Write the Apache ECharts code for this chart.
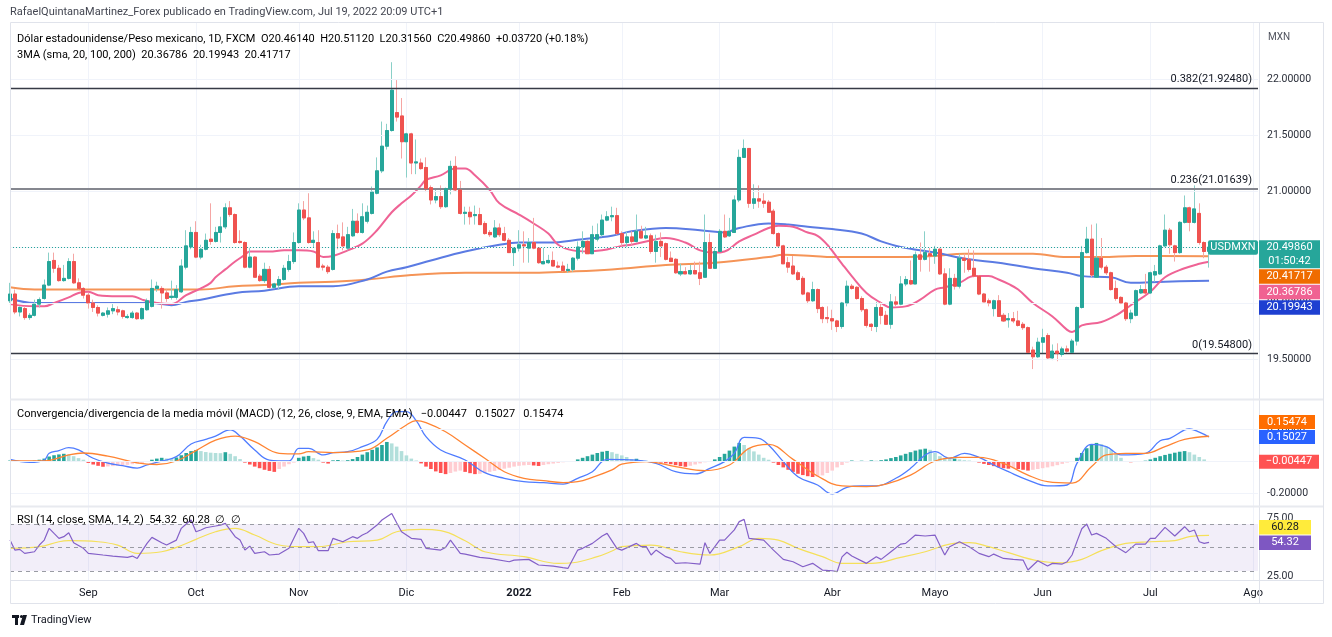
<!DOCTYPE html>
<html><head><meta charset="utf-8">
<script src="https://cdn.jsdelivr.net/npm/echarts@6/dist/echarts.min.js"></script>
<style>html,body{margin:0;padding:0;background:#fff;}#c{width:1332px;height:637px;}</style>
</head><body><div id="c"></div>
<script>
// ---------- DATA ----------
// daily bars [open, high, low, close], from 2021-08-10 (weekdays) to 2022-07-19
const ohlc = [
[20.02,20.18,20.00,20.08],[20.08,20.12,19.90,19.92],[19.92,19.97,19.88,19.96],[19.95,19.97,19.85,19.87],[19.87,19.91,19.85,19.89],
[19.89,20.03,19.88,19.99],[19.99,20.05,19.96,20.03],[20.04,20.21,20.03,20.16],[20.16,20.45,20.15,20.37],[20.38,20.45,20.27,20.31],
[20.31,20.34,20.19,20.20],[20.20,20.34,20.19,20.22],[20.22,20.40,20.21,20.37],[20.37,20.44,20.17,20.18],[20.18,20.22,20.12,20.13],
[20.13,20.14,20.04,20.07],[20.07,20.09,19.95,20.00],[20.00,20.03,19.92,19.96],[19.96,19.98,19.88,19.91],[19.89,19.92,19.88,19.91],
[19.90,19.96,19.87,19.93],[19.93,19.99,19.90,19.95],[19.94,19.97,19.89,19.92],[19.93,19.94,19.86,19.88],[19.87,19.90,19.86,19.88],
[19.87,19.93,19.86,19.91],[19.91,19.92,19.85,19.86],[19.86,19.96,19.85,19.95],[19.94,20.04,19.93,20.02],[19.97,20.21,19.96,20.13],
[20.13,20.19,20.10,20.15],[20.13,20.15,19.95,20.09],[20.09,20.12,20.01,20.04],[20.05,20.20,20.03,20.06],[20.05,20.16,20.03,20.12],
[20.10,20.39,20.09,20.33],[20.32,20.65,20.30,20.51],[20.50,20.68,20.48,20.63],[20.63,20.73,20.40,20.41],[20.41,20.52,20.39,20.48],
[20.48,20.62,20.47,20.56],[20.57,20.89,20.52,20.55],[20.55,20.68,20.54,20.63],[20.63,20.77,20.54,20.68],[20.68,20.89,20.66,20.85],
[20.85,20.91,20.77,20.79],[20.79,20.80,20.53,20.54],[20.55,20.65,20.53,20.54],[20.54,20.55,20.31,20.32],[20.32,20.49,20.31,20.41],
[20.41,20.42,20.23,20.23],[20.24,20.26,20.19,20.20],[20.20,20.36,20.18,20.30],[20.30,20.33,20.13,20.14],[20.14,20.18,20.13,20.17],
[20.16,20.24,20.12,20.21],[20.21,20.34,20.20,20.31],[20.30,20.43,20.28,20.37],[20.37,20.63,20.35,20.54],[20.54,20.89,20.53,20.83],
[20.83,20.91,20.74,20.76],[20.76,20.98,20.53,20.54],[20.54,20.64,20.50,20.56],[20.54,20.65,20.31,20.32],[20.33,20.35,20.29,20.32],
[20.32,20.34,20.26,20.28],[20.30,20.65,20.29,20.62],[20.62,20.70,20.48,20.58],[20.59,20.72,20.47,20.51],[20.49,20.68,20.47,20.61],
[20.60,20.84,20.59,20.73],[20.73,20.80,20.62,20.63],[20.63,20.89,20.62,20.77],[20.73,20.87,20.71,20.81],[20.80,21.04,20.79,20.99],
[20.98,21.30,20.97,21.18],[21.18,21.62,21.16,21.40],[21.40,21.60,21.37,21.54],[21.54,22.15,21.53,21.90],[21.70,21.99,21.62,21.66],
[21.67,21.83,21.29,21.44],[21.44,21.52,21.12,21.51],[21.51,21.52,21.15,21.25],[21.25,21.46,21.15,21.26],[21.25,21.29,21.19,21.20],
[21.21,21.30,20.99,21.02],[21.03,21.05,20.88,20.92],[20.92,21.02,20.89,20.95],[20.95,21.05,20.84,20.86],[20.86,21.03,20.85,21.02],
[21.02,21.27,20.97,21.22],[21.22,21.31,21.00,21.01],[21.01,21.09,20.79,20.80],[20.80,20.86,20.70,20.81],[20.81,20.86,20.70,20.77],
[20.78,20.87,20.70,20.79],[20.79,20.85,20.70,20.70],[20.71,20.73,20.61,20.62],[20.63,20.65,20.59,20.61],[20.59,20.74,20.58,20.67],
[20.67,20.71,20.59,20.61],[20.62,20.68,20.55,20.56],[20.56,20.58,20.45,20.45],[20.45,20.47,20.33,20.49],[20.49,20.65,20.46,20.52],
[20.52,20.64,20.36,20.51],[20.49,20.58,20.36,20.54],[20.54,20.76,20.48,20.49],[20.49,20.50,20.35,20.36],[20.35,20.50,20.35,20.37],
[20.36,20.43,20.35,20.38],[20.38,20.46,20.33,20.33],[20.33,20.37,20.31,20.32],[20.33,20.37,20.28,20.29],[20.29,20.35,20.27,20.30],
[20.30,20.41,20.28,20.40],[20.40,20.55,20.38,20.50],[20.50,20.64,20.44,20.55],[20.55,20.56,20.44,20.44],[20.44,20.69,20.44,20.61],
[20.57,20.71,20.55,20.61],[20.61,20.79,20.59,20.74],[20.74,20.82,20.73,20.77],[20.77,20.86,20.73,20.78],[20.78,20.85,20.61,20.62],
[20.62,20.64,20.51,20.54],[20.54,20.64,20.49,20.59],[20.59,20.64,20.52,20.55],[20.55,20.79,20.54,20.64],[20.64,20.69,20.58,20.58],
[20.58,20.68,20.57,20.60],[20.60,20.62,20.44,20.46],[20.46,20.61,20.36,20.55],[20.55,20.63,20.41,20.51],[20.53,20.54,20.38,20.39],
[20.40,20.46,20.37,20.37],[20.39,20.40,20.26,20.27],[20.26,20.35,20.24,20.28],[20.28,20.32,20.26,20.26],[20.26,20.34,20.25,20.29],
[20.29,20.37,20.27,20.26],[20.27,20.37,20.16,20.22],[20.23,20.79,20.23,20.54],[20.54,20.62,20.32,20.31],[20.31,20.50,20.31,20.46],
[20.46,20.66,20.46,20.64],[20.64,20.79,20.58,20.59],[20.60,20.76,20.59,20.64],[20.63,20.96,20.63,20.92],[20.92,21.37,20.90,21.30],
[21.30,21.46,21.30,21.38],[21.38,21.38,20.85,20.89],[20.89,21.06,20.84,20.93],[20.93,21.05,20.85,20.91],[20.91,20.98,20.85,20.89],
[20.90,20.92,20.81,20.81],[20.82,20.84,20.61,20.62],[20.62,20.63,20.50,20.51],[20.51,20.52,20.35,20.35],[20.36,20.41,20.27,20.32],
[20.33,20.42,20.25,20.26],[20.27,20.29,20.20,20.21],[20.22,20.24,20.07,20.08],[20.09,20.10,19.99,20.02],[20.02,20.19,20.01,20.12],
[20.12,20.13,19.91,19.95],[19.96,19.97,19.82,19.86],[19.87,19.97,19.82,19.86],[19.86,19.94,19.76,19.84],[19.84,19.85,19.74,19.79],
[19.79,20.01,19.77,20.00],[20.00,20.20,19.97,20.15],[20.15,20.17,20.12,20.13],[20.14,20.15,20.03,20.04],[20.04,20.06,19.92,19.94],
[19.94,19.95,19.78,19.80],[19.81,19.82,19.75,19.79],[19.79,20.01,19.74,19.96],[19.96,20.01,19.81,19.89],[19.89,19.93,19.81,19.81],
[19.81,20.08,19.77,20.01],[20.01,20.06,19.97,19.99],[19.99,20.24,19.98,20.17],[20.17,20.24,20.15,20.21],[20.20,20.38,20.16,20.17],
[20.17,20.46,20.17,20.43],[20.43,20.54,20.28,20.39],[20.39,20.64,20.38,20.45],[20.44,20.50,20.28,20.42],[20.42,20.51,20.35,20.48],
[20.48,20.49,20.25,20.26],[20.26,20.31,19.98,19.99],[19.99,20.31,19.98,20.22],[20.22,20.26,20.12,20.15],[20.15,20.44,20.13,20.40],
[20.40,20.44,20.27,20.38],[20.39,20.48,20.28,20.30],[20.31,20.47,20.23,20.24],[20.24,20.25,20.07,20.08],[20.08,20.09,20.01,20.01],
[20.02,20.04,19.97,20.00],[19.95,20.03,19.88,20.02],[20.02,20.07,19.88,19.88],[19.89,19.91,19.83,19.84],[19.85,19.91,19.78,19.86],
[19.86,19.92,19.82,19.84],[19.84,19.93,19.79,19.80],[19.81,19.83,19.76,19.78],[19.78,19.79,19.55,19.56],[19.58,19.61,19.41,19.52],
[19.52,19.69,19.51,19.65],[19.65,19.77,19.55,19.69],[19.71,19.73,19.50,19.51],[19.51,19.63,19.49,19.57],[19.57,19.64,19.48,19.55],
[19.54,19.61,19.52,19.59],[19.59,19.62,19.55,19.57],[19.56,19.68,19.55,19.66],[19.66,19.97,19.62,19.96],[19.96,20.51,19.95,20.45],
[20.45,20.68,20.44,20.57],[20.57,20.70,20.23,20.25],[20.23,20.71,20.23,20.40],[20.40,20.58,20.30,20.32],[20.32,20.34,20.25,20.27],
[20.27,20.28,20.11,20.12],[20.13,20.20,20.02,20.04],[20.05,20.06,19.99,20.00],[20.00,20.01,19.84,19.86],[19.86,19.94,19.82,19.91],
[19.89,20.12,19.88,20.11],[20.09,20.16,20.08,20.12],[20.12,20.26,20.08,20.09],[20.09,20.28,20.08,20.27],[20.25,20.34,20.19,20.28],
[20.26,20.52,20.25,20.51],[20.51,20.79,20.49,20.65],[20.65,20.67,20.44,20.52],[20.51,20.52,20.37,20.45],[20.45,20.73,20.44,20.72],
[20.72,20.96,20.71,20.85],[20.85,20.86,20.64,20.72],[20.72,21.05,20.71,20.84],[20.80,20.89,20.52,20.54],[20.54,20.55,20.40,20.46],
[20.4614,20.5112,20.3156,20.4986]
];
// moving averages: [bar index, value]
const sma20 = [[0,19.99],[5,19.97],[7,19.97],[9,20.00],[12,20.05],[14,20.09],[16,20.10],[18,20.07],[22,20.06],[25,20.06],[27,20.03],[30,20.00],[33,19.99],[36,20.07],[39,20.13],[41,20.18],[42,20.23],[44,20.30],[46,20.37],[48,20.43],[49,20.46],[53,20.46],[56,20.47],[59,20.47],[62,20.46],[64,20.41],[66,20.42],[69,20.47],[72,20.53],[75,20.65],[78,20.81],[80,20.89],[82,20.96],[84,21.05],[85,21.10],[88,21.14],[91,21.20],[93,21.20],[95,21.14],[98,21.01],[100,20.89],[104,20.79],[107,20.71],[110,20.62],[112,20.52],[115,20.47],[118,20.46],[121,20.47],[125,20.51],[127,20.52],[132,20.57],[134,20.58],[138,20.54],[141,20.47],[144,20.45],[146,20.46],[149,20.55],[152,20.61],[155,20.67],[157,20.69],[160,20.68],[163,20.63],[165,20.60],[167,20.52],[170,20.35],[172,20.24],[175,20.09],[178,20.00],[180,19.96],[183,19.97],[186,20.03],[189,20.12],[191,20.14],[194,20.18],[197,20.24],[200,20.24],[202,20.21],[204,20.17],[206,20.12],[209,20.00],[213,19.88],[216,19.76],[217,19.74],[219,19.80],[223,19.83],[226,19.89],[229,19.98],[233,20.10],[236,20.23],[240,20.31],[243,20.35],[245,20.36786]];
const sma100 = [[0,20.04],[5,20.00],[14,20.00],[25,20.00],[29,20.00],[33,19.98],[36,20.01],[39,20.03],[46,20.09],[52,20.11],[59,20.15],[66,20.15],[73,20.21],[77,20.28],[81,20.32],[86,20.38],[93,20.46],[100,20.52],[104,20.54],[110,20.54],[117,20.57],[123,20.60],[127,20.64],[134,20.67],[141,20.65],[146,20.63],[149,20.67],[155,20.71],[159,20.70],[163,20.68],[168,20.66],[174,20.62],[178,20.55],[182,20.50],[189,20.45],[196,20.39],[202,20.36],[209,20.31],[216,20.27],[219,20.24],[225,20.23],[229,20.18],[236,20.19],[245,20.19943]];
const sma200 = [[0,20.14],[5,20.12],[25,20.12],[39,20.12],[46,20.15],[52,20.16],[59,20.18],[66,20.19],[73,20.21],[82,20.25],[93,20.27],[107,20.27],[114,20.28],[123,20.30],[134,20.34],[144,20.36],[155,20.41],[158,20.43],[164,20.42],[168,20.41],[182,20.41],[189,20.42],[195,20.44],[209,20.44],[216,20.41],[223,20.41],[230,20.42],[245,20.41717]];
// MACD (12,26,9)
const macdLine = [[0,0.01],[4,-0.008],[7,0.006],[8,0.048],[10,0.065],[12,0.083],[14,0.069],[17,0.017],[20,-0.014],[23,-0.029],[26,-0.044],[28,-0.025],[31,0.0],[34,0.027],[37,0.106],[40,0.135],[42,0.156],[45,0.194],[47,0.156],[50,0.069],[53,0.006],[57,0.0],[59,0.079],[61,0.079],[64,0.038],[66,0.052],[69,0.058],[72,0.09],[75,0.135],[77,0.246],[79,0.308],[81,0.308],[83,0.252],[85,0.152],[88,0.069],[93,0.006],[97,-0.073],[101,-0.108],[105,-0.129],[109,-0.135],[113,-0.144],[116,-0.108],[119,-0.067],[122,0.01],[128,0.006],[132,-0.015],[136,-0.067],[140,-0.081],[143,-0.046],[146,-0.004],[148,0.048],[150,0.148],[153,0.142],[155,0.1],[158,-0.004],[161,-0.098],[165,-0.15],[168,-0.206],[171,-0.165],[174,-0.156],[177,-0.156],[181,-0.108],[184,-0.046],[187,0.038],[189,0.058],[192,0.017],[195,0.048],[198,0.023],[201,-0.025],[204,-0.067],[208,-0.119],[212,-0.156],[216,-0.15],[218,-0.015],[221,0.104],[224,0.09],[227,0.038],[232,0.048],[235,0.127],[237,0.142],[240,0.194],[241,0.2],[243,0.18],[245,0.15027]];
const signalLine = [[0,0.0],[7,0.0],[12,0.038],[15,0.05],[20,0.03],[26,-0.012],[30,-0.022],[34,0.0],[38,0.065],[42,0.13],[46,0.156],[50,0.121],[55,0.048],[59,0.044],[61,0.058],[66,0.052],[73,0.069],[77,0.142],[81,0.225],[83,0.252],[85,0.24],[89,0.183],[93,0.1],[97,0.017],[101,-0.067],[105,-0.108],[109,-0.123],[113,-0.135],[116,-0.129],[119,-0.102],[123,-0.056],[125,-0.02],[130,-0.004],[136,-0.035],[142,-0.06],[147,-0.025],[151,0.079],[155,0.104],[160,0.01],[165,-0.094],[170,-0.156],[175,-0.16],[179,-0.144],[184,-0.088],[189,0.0],[194,0.023],[198,0.023],[203,-0.015],[208,-0.088],[212,-0.129],[217,-0.138],[221,-0.035],[224,0.038],[228,0.048],[232,0.048],[236,0.09],[240,0.135],[245,0.15474]];
const macdHist = [
0.003,0.002,0.000,-0.002,-0.001,0.002,0.008,0.015,0.028,0.036,
0.041,0.045,0.040,0.030,0.018,0.008,-0.012,-0.022,-0.030,-0.036,
-0.034,-0.032,-0.030,-0.027,-0.024,-0.020,-0.016,-0.012,-0.006,0.008,
0.015,0.020,0.016,0.012,0.022,0.036,0.050,0.062,0.069,0.062,
0.056,0.052,0.050,0.049,0.055,0.045,0.030,0.012,-0.010,-0.022,
-0.035,-0.045,-0.055,-0.062,-0.068,-0.050,-0.035,-0.020,-0.010,0.020,
0.028,0.032,0.018,0.008,-0.010,-0.016,0.004,0.006,0.003,0.005,
0.012,0.025,0.040,0.055,0.070,0.085,0.100,0.119,0.110,0.090,
0.062,0.035,0.015,0.003,-0.015,-0.035,-0.050,-0.065,-0.075,-0.082,
-0.075,-0.066,-0.060,-0.068,-0.076,-0.082,-0.080,-0.075,-0.068,-0.062,
-0.055,-0.048,-0.042,-0.035,-0.030,-0.027,-0.025,-0.028,-0.031,-0.025,
-0.020,-0.016,-0.012,-0.008,-0.004,-0.001,0.010,0.020,0.030,0.040,
0.050,0.058,0.063,0.055,0.045,0.035,0.025,0.012,0.014,0.005,
0.002,-0.002,-0.005,-0.010,-0.015,-0.020,-0.026,-0.032,-0.036,-0.030,
-0.022,-0.015,-0.008,-0.002,0.010,0.025,0.045,0.065,0.090,0.113,
0.100,0.080,0.060,0.040,0.020,0.008,-0.010,-0.025,-0.040,-0.055,
-0.068,-0.080,-0.088,-0.095,-0.100,-0.098,-0.090,-0.075,-0.060,-0.040,
-0.025,-0.010,0.003,-0.003,0.002,-0.002,0.004,0.002,0.005,0.010,
0.018,0.025,0.035,0.045,0.055,0.065,0.072,0.077,0.070,0.050,
0.030,0.020,0.012,0.015,0.010,0.005,0.003,0.000,-0.010,-0.018,
-0.025,-0.032,-0.040,-0.045,-0.048,-0.045,-0.050,-0.055,-0.060,-0.055,
-0.050,-0.045,-0.040,-0.033,-0.026,-0.018,-0.010,-0.004,0.020,0.050,
0.080,0.100,0.113,0.105,0.090,0.070,0.045,0.020,-0.004,-0.008,
-0.005,-0.003,0.002,0.010,0.020,0.030,0.038,0.045,0.052,0.058,
0.062,0.055,0.040,0.025,0.010,-0.00447
];
// RSI(14) and its SMA(14)
const rsiLine = [[0,56.3],[1,47.8],[2,48.4],[3,45],[5,46.4],[6,52.1],[7,56.3],[8,66.3],[9,62],[10,57.8],[11,59.2],[12,62.6],[13,54.1],[15,49.3],[16,45],[19,43.6],[21,42.7],[24,41.6],[25,42.7],[26,40.7],[28,53.5],[29,58.6],[31,54.1],[32,52.1],[34,56.3],[35,66.3],[36,70],[37,73.4],[38,63.4],[39,64.9],[40,66.8],[42,68.3],[43,69.1],[44,70.5],[46,59.2],[47,56.3],[48,47.8],[49,51.2],[50,45],[52,46.4],[53,43.6],[55,44.4],[57,49.3],[59,66.3],[60,62],[61,54.1],[62,54.9],[63,47.3],[65,47.3],[66,57.8],[67,56.3],[68,54.9],[70,59.2],[71,57.8],[72,60.6],[73,62.6],[75,69.1],[76,73.4],[78,79],[79,71.1],[80,63.4],[82,57.8],[84,56.9],[85,49.3],[88,47.8],[89,50.1],[90,56.3],[92,45],[93,44.4],[96,41.6],[98,40.7],[102,37.9],[103,39.3],[106,39.9],[108,35.1],[111,34.2],[113,32.8],[114,32.2],[116,47.8],[117,49.3],[119,53.5],[121,59.8],[122,62],[124,49.3],[125,47.8],[128,53.5],[129,50.7],[130,50.7],[131,43.6],[132,47.8],[134,42.2],[135,40.7],[136,36.5],[138,37],[141,35.9],[142,54.1],[143,45],[145,56.3],[146,56.3],[148,65],[149,72],[150,73.9],[151,57.8],[154,56.3],[156,47.8],[158,39.9],[160,37.9],[162,33.6],[164,36.5],[166,30.8],[168,30.2],[169,29.4],[170,42],[171,46],[172,42.7],[175,36.5],[177,42.2],[178,39.9],[180,46.4],[182,52.9],[183,53.5],[185,60.6],[187,59.8],[189,60.6],[190,52],[191,43.6],[192,50.7],[194,54.9],[196,50.7],[198,45],[200,42.2],[201,44.4],[203,40.7],[205,39.9],[207,39.3],[208,30.8],[210,38.7],[212,34.2],[213,36.5],[215,35.9],[216,37.9],[217,43.6],[218,55],[219,66],[220,70],[221,60.6],[222,62],[224,57.8],[226,50.7],[228,45.6],[230,52.9],[232,52.9],[233,57.8],[234,57.8],[236,67.1],[238,59.8],[240,67.7],[241,63.4],[242,64.9],[243,54.9],[244,53.5],[245,54.32]];
const rsiSma = [[0,49.3],[6,50.7],[10,54.9],[12,55.8],[18,54.9],[22,52],[26,45],[31,46.4],[34,50.1],[38,56.9],[42,63.4],[46,66.3],[50,60.6],[55,52.1],[59,50.7],[63,50.7],[69,54.9],[75,56.3],[79,63.4],[84,65.4],[88,64.3],[93,55.8],[97,46.4],[105,42.2],[112,36.5],[115,37],[120,42.2],[123,47],[125,50.7],[131,52.1],[137,46.4],[143,43.6],[149,50.7],[153,57.8],[157,56.3],[161,49.3],[166,42.2],[170,36.5],[176,36.5],[182,41.6],[187,46.4],[192,52.9],[196,54.1],[200,50.7],[204,45.6],[210,38.7],[215,37],[219,39.9],[223,47.3],[228,53.5],[233,54.9],[238,55.8],[241,59.2],[245,60.28]];
const fibLevels = [[21.9248,'0.382(21.92480)','#363a45',1.3],[21.01639,'0.236(21.01639)','#85878f',1.8],[19.548,'0(19.54800)','#363a45',1.3]];
const priceTicks = [19.5,20,20.5,21,21.5,22];
const macdTicks = [-0.2,0,0.2];
const rsiTicks = [25,50,75];
const monthNames = ['Ene','Feb','Mar','Abr','Mayo','Jun','Jul','Ago','Sep','Oct','Nov','Dic'];
const lastPrice = 20.4986;

// ---------- CATEGORIES (weekday dates) ----------
const dates = []; const monthStart = new Map();
(function(){ let d = new Date(Date.UTC(2021,7,10)); let pm=-1;
  while(dates.length<256){ const wd=d.getUTCDay();
    if(wd!==0&&wd!==6){ const m=d.getUTCMonth();
      if(pm!==-1&&m!==pm) monthStart.set(dates.length, m===0?String(d.getUTCFullYear()):monthNames[m]);
      pm=m; dates.push(d.toISOString().slice(0,10)); }
    d.setUTCDate(d.getUTCDate()+1);} })();

const UP='#26a69a', DN='#ef5350', UPW='#8ad0c8', DNW='#f5a6a4';
const FONT='Roboto, "Noto Sans", sans-serif';
const wickData = ohlc.map(r=>[r[0],r[3],r[2],r[1]]);
const bodyData = ohlc.map(r=>[r[0],r[3],Math.min(r[0],r[3]),Math.max(r[0],r[3])]);
const histData = macdHist.map((v,i)=>{ const p=i>0?macdHist[i-1]:v; let c;
  if(v>=0) c = v>=p?'#26a69a':'#b2dfdb'; else c = v<p?'#ff5252':'#ffcdd2';
  return {value:v, itemStyle:{color:c}}; });

const isMS = i => monthStart.has(i);
function xAx(g){ return {type:'category',gridIndex:g,data:dates,boundaryGap:false,
  axisLine:{show:false},axisTick:{show:false},
  axisLabel:{show:g===2,interval:isMS,hideOverlap:false,margin:8,color:'#131722',fontSize:11,fontFamily:FONT,
    formatter:(v,i)=>{const s=monthStart.get(i)||''; return /^\d{4}$/.test(s)?'{b|'+s+'}':s;},
    rich:{b:{fontWeight:'bold',fontSize:11,color:'#131722',fontFamily:FONT}}},
  splitLine:{show:true,interval:isMS,lineStyle:{color:'#f0f3fa',width:1}}}; }
function yAx(g,min,max,ticks,fmt){ return {type:'value',gridIndex:g,position:'right',min,max,scale:true,
  axisLine:{show:false},axisTick:{show:false},splitLine:{show:false},
  axisLabel:{customValues:ticks,formatter:fmt,color:'#2a2e39',fontSize:10.5,fontFamily:FONT,margin:9}}; }
function gridLines(vals){ return vals.map(v=>({yAxis:v,lineStyle:{color:'#f0f3fa',width:1,type:'solid'}})); }

const chart = echarts.init(document.getElementById('c'),null,{renderer:'canvas',width:1332,height:637,devicePixelRatio:1});
const option = {
  animation:false, textStyle:{fontFamily:FONT},
  grid:[{left:10,right:74,top:22,height:377},{left:10,right:74,top:400,height:106},{left:10,right:74,top:507,height:73}],
  xAxis:[xAx(0),xAx(1),xAx(2)],
  yAxis:[yAx(0,19.1429,22.5089,priceTicks,v=>v.toFixed(5)),
         yAx(1,-0.28125,0.38125,macdTicks,v=>v.toFixed(5)),
         yAx(2,22.34,84.47,rsiTicks,v=>v.toFixed(2))],
  series:[
    {type:'line',xAxisIndex:0,yAxisIndex:0,data:[],z:1,silent:true,
     markLine:{silent:true,symbol:'none',label:{show:false},data:gridLines(priceTicks)}},
    {type:'line',xAxisIndex:0,yAxisIndex:0,data:[],z:2,silent:true,
     markLine:{silent:true,symbol:'none',
      data:fibLevels.map(f=>({yAxis:f[0],lineStyle:{color:f[2],width:f[3],type:'solid'},
        label:{show:true,position:'insideEndTop',formatter:f[1],color:'#131722',fontSize:11,fontFamily:FONT,distance:[6,3]}}))
        .concat([{yAxis:lastPrice,lineStyle:{color:'#26a69a',width:1,type:[1,2]},label:{show:false}}])}},
    {type:'line',xAxisIndex:0,yAxisIndex:0,data:sma200,smooth:0.4,showSymbol:false,lineStyle:{color:'#f59457',width:2},z:3},
    {type:'line',xAxisIndex:0,yAxisIndex:0,data:sma100,smooth:0.4,showSymbol:false,lineStyle:{color:'#5b7be3',width:2},z:3},
    {type:'line',xAxisIndex:0,yAxisIndex:0,data:sma20,smooth:0.4,showSymbol:false,lineStyle:{color:'#ef6395',width:2},z:3},
    {type:'candlestick',xAxisIndex:0,yAxisIndex:0,data:wickData,barWidth:'72%',clip:true,z:4,
     itemStyle:{color:UPW,color0:DNW,borderColor:UPW,borderColor0:DNW,borderWidth:1}},
    {type:'candlestick',xAxisIndex:0,yAxisIndex:0,data:bodyData,barWidth:'72%',clip:true,z:5,
     itemStyle:{color:UP,color0:DN,borderColor:UP,borderColor0:DN,borderWidth:1}},
    {type:'line',xAxisIndex:1,yAxisIndex:1,data:[],z:1,silent:true,
     markLine:{silent:true,symbol:'none',label:{show:false},data:gridLines(macdTicks)}},
    {type:'bar',xAxisIndex:1,yAxisIndex:1,data:histData,barWidth:3.6,z:2},
    {type:'line',xAxisIndex:1,yAxisIndex:1,data:macdLine,smooth:0.4,showSymbol:false,lineStyle:{color:'#4f7cff',width:1.3},z:3},
    {type:'line',xAxisIndex:1,yAxisIndex:1,data:signalLine,smooth:0.4,showSymbol:false,lineStyle:{color:'#ff8432',width:1.3},z:3},
    {type:'line',xAxisIndex:2,yAxisIndex:2,data:[],z:1,silent:true,
     markArea:{silent:true,itemStyle:{color:'rgba(126,87,194,0.10)'},data:[[{yAxis:30},{yAxis:70}]]},
     markLine:{silent:true,symbol:'none',label:{show:false},
      data:[70,50,30].map(v=>({yAxis:v,lineStyle:{color:'#9a9ca4',width:1,type:[4,4]}}))}},
    {type:'line',xAxisIndex:2,yAxisIndex:2,data:rsiSma,smooth:0.4,showSymbol:false,lineStyle:{color:'#f5e05a',width:1.2},z:3},
    {type:'line',xAxisIndex:2,yAxisIndex:2,data:rsiLine,showSymbol:false,lineStyle:{color:'#8460c8',width:1.2},z:4}
  ]
};
chart.setOption(option);

// ---------- overlays ----------
const G=[];
const ln=(x1,y1,x2,y2,c,w)=>G.push({type:'line',silent:true,z:90,shape:{x1,y1,x2,y2},style:{stroke:c,lineWidth:w||1}});
// frame
ln(10.5,22.5,1323.5,22.5,'#e0e3eb'); ln(10.5,22.5,10.5,603.5,'#e0e3eb'); ln(1323.5,22.5,1323.5,603.5,'#e0e3eb');
ln(10.5,603.5,1323.5,603.5,'#e0e3eb'); ln(1259.5,22.5,1259.5,603.5,'#e0e3eb');
ln(10,399.5,1323,399.5,'#e8eaef',2); ln(10,506.5,1323,506.5,'#e8eaef',2); ln(10,580.5,1323,580.5,'#e0e3eb',1);
const base={fontSize:11,fontFamily:FONT};
G.push({type:'text',x:10,y:12,z:100,silent:true,style:{text:'RafaelQuintanaMartinez_Forex publicado en TradingView.com, Jul 19, 2022 20:09 UTC+1',fill:'#434651',font:'11px '+FONT,verticalAlign:'middle'}});
const R=(t,c)=>'{'+c+'|'+t+'}';
G.push({type:'text',x:17,y:39,z:100,silent:true,style:{verticalAlign:'middle',font:'11px '+FONT,
  text:R('Dólar estadounidense/Peso mexicano, 1D, FXCM  ','n')+R('O','n')+R('20.46140  ','v')+R('H','n')+R('20.51120  ','v')+R('L','n')+R('20.31560  ','v')+R('C','n')+R('20.49860  ','v')+R('+0.03720 (+0.18%)','v'),
  rich:{n:Object.assign({color:'#131722'},base),v:Object.assign({color:'#26a69a'},base)}}});
G.push({type:'text',x:17,y:55,z:100,silent:true,style:{verticalAlign:'middle',font:'11px '+FONT,
  text:R('3MA (sma, 20, 100, 200)  ','n')+R('20.36786  ','p')+R('20.19943  ','b')+R('20.41717','o'),
  rich:{n:Object.assign({color:'#131722'},base),p:Object.assign({color:'#ef6395'},base),b:Object.assign({color:'#3f63de'},base),o:Object.assign({color:'#f57c00'},base)}}});
G.push({type:'text',x:17,y:414,z:100,silent:true,style:{verticalAlign:'middle',font:'11px '+FONT,
  text:R('Convergencia/divergencia de la media móvil (MACD) (12, 26, close, 9, EMA, EMA)   ','n')+R('−0.00447   ','r')+R('0.15027   ','b')+R('0.15474','o'),
  rich:{n:Object.assign({color:'#131722'},base),r:Object.assign({color:'#ff5252'},base),b:Object.assign({color:'#2962ff'},base),o:Object.assign({color:'#ff6d00'},base)}}});
G.push({type:'text',x:17,y:520,z:100,silent:true,style:{verticalAlign:'middle',font:'11px '+FONT,
  text:R('RSI (14, close, SMA, 14, 2)  ','n')+R('54.32  ','p')+R('60.28  ','y')+R('∅  ∅','n'),
  rich:{n:Object.assign({color:'#131722'},base),p:Object.assign({color:'#7e57c2'},base),y:Object.assign({color:'#f2d21b'},base)}}});
G.push({type:'text',x:1268,y:37,z:100,silent:true,style:{text:'MXN',fill:'#50535e',font:'10px '+FONT,verticalAlign:'middle'}});
// TradingView mark
G.push({type:'rect',silent:true,shape:{x:12,y:615,width:7,height:3},style:{fill:'#131722'}});
G.push({type:'rect',silent:true,shape:{x:15,y:615,width:3,height:10},style:{fill:'#131722'}});
G.push({type:'circle',silent:true,shape:{cx:21.5,cy:616.5,r:1.6},style:{fill:'#131722'}});
G.push({type:'polygon',silent:true,shape:{points:[[23,615],[27,615],[24,625],[20,625]]},style:{fill:'#131722'}});
G.push({type:'text',x:31,y:620,silent:true,style:{text:'TradingView',fill:'#131722',font:'11px '+FONT,verticalAlign:'middle'}});

function box(x,top,w,h,bg,lines,fg,r){
  G.push({type:'rect',silent:true,z:110,shape:{x,y:top,width:w,height:h,r:r||0},style:{fill:bg}});
  const lh=h/lines.length;
  lines.forEach((t,k)=>G.push({type:'text',silent:true,z:111,x:x+w/2,y:top+lh*(k+0.5),
    style:{text:t,fill:fg,font:'11px '+FONT,align:'center',verticalAlign:'middle'}}));
}
const py=(a,v)=>chart.convertToPixel({yAxisIndex:a},v);
// price scale boxes (stacked)
let items=[{v:lastPrice,h:28,bg:'#26a69a',t:['20.49860','01:50:42']},
  {v:20.41717,h:14.5,bg:'#ef6c00',t:['20.41717']},
  {v:20.36786,h:14.5,bg:'#f06292',t:['20.36786']},
  {v:20.19943,h:14.5,bg:'#1e3fd1',t:['20.19943']}];
let prevB=-1e9;
items.forEach((it,k)=>{ const y=py(0,it.v); let top=(k===0)?y-7:Math.max(y-7.25,prevB+1);
  box(1259,top,61,it.h,it.bg,it.t,'#fff'); prevB=top+it.h;
  if(k===0) box(1208,top,50,14.5,'#26a69a',['USDMXN'],'#fff',2); });
// MACD boxes
{ const yb=py(1,0.15027); box(1259,yb-7,56,14,'#2962ff',['0.15027'],'#fff');
  box(1259,yb-7-15,56,14,'#ff6d00',['0.15474'],'#fff');
  const yr=py(1,-0.00447); box(1259,yr-7,60,14,'#ff5252',['−0.00447'],'#fff'); }
// RSI boxes
{ const yp=py(2,54.32); box(1259,yp-7,52,14.5,'#7e57c2',['54.32'],'#fff');
  box(1259,yp-7-15.5,52,14.5,'#ffeb3b',['60.28'],'#131722'); }
chart.setOption({graphic:G});
</script></body></html>
